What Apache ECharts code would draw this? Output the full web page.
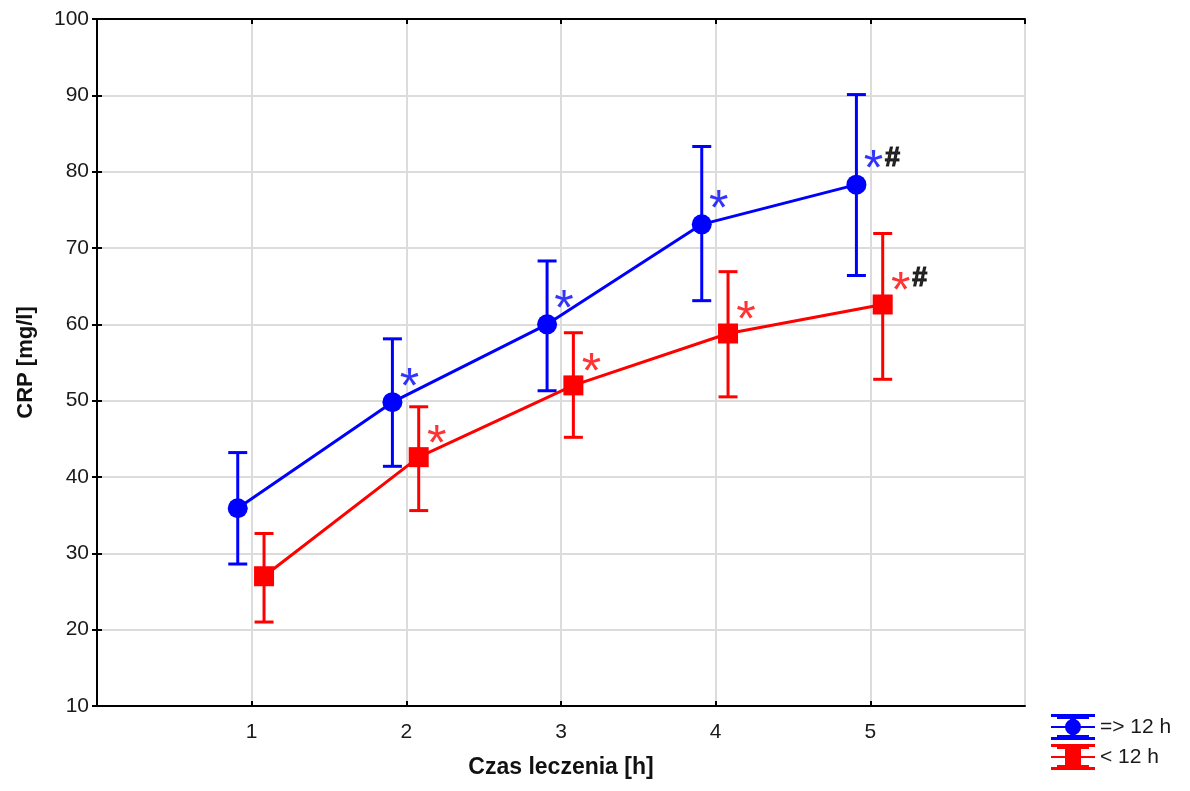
<!DOCTYPE html>
<html>
<head>
<meta charset="utf-8">
<title>CRP – czas leczenia</title>
<script src="https://cdn.jsdelivr.net/npm/echarts@6/dist/echarts.min.js"></script>
<style>
  html, body { margin: 0; padding: 0; background: #fff; }
  #chart { width: 1190px; height: 791px; }
</style>
</head>
<body>
<div id="chart"></div>
<script>
// Treatment hours on the x axis
const hours = [1, 2, 3, 4, 5];
const xTickLabels = ['1', '2', '3', '4', '5'];
const yTicks = [10, 20, 30, 40, 50, 60, 70, 80, 90, 100];

// Group "=> 12 h": mean CRP with error-bar limits
const longName = '=> 12 h';
const longMean = [35.9, 49.8, 60.0, 73.1, 78.3];
const longLow  = [28.6, 41.4, 51.3, 63.1, 66.4];
const longHigh = [43.2, 58.1, 68.3, 83.3, 90.1];
const longStar = ['', '*', '*', '*', '*'];
const longHash = ['', '', '', '', '#'];

// Group "< 12 h"
const shortName = '< 12 h';
const shortMean = [27.0, 42.6, 52.0, 58.8, 62.6];
const shortLow  = [21.0, 35.6, 45.2, 50.5, 52.8];
const shortHigh = [32.6, 49.2, 58.9, 66.9, 71.9];
const shortStar = ['', '*', '*', '*', '*'];
const shortHash = ['', '', '', '', '#'];

// Horizontal dodge so the two groups do not overlap
const DODGE_LONG = -0.09;
const DODGE_SHORT = 0.08;

const BLUE = '#0000ff';
const RED = '#ff0000';
const FONT = '"Liberation Sans", Arial, sans-serif';

function meanPoints(mean, dodge) {
  return hours.map((h, i) => [h + dodge, mean[i]]);
}
function errPoints(low, high, dodge) {
  return hours.map((h, i) => [h + dodge, low[i], high[i]]);
}
function markPoints(mean, marks, dodge) {
  return hours.map((h, i) => ({ value: [h + dodge, mean[i]], mark: marks[i] }))
              .filter(d => d.mark);
}

function errorBarSeries(name, color, low, high, dodge) {
  return {
    name: name,
    type: 'custom',
    data: errPoints(low, high, dodge),
    encode: { x: 0, y: [1, 2] },
    z: 3,
    renderItem: function (params, api) {
      const x = api.value(0);
      const lo = api.coord([x, api.value(1)]);
      const hi = api.coord([x, api.value(2)]);
      const half = 9.5;
      const style = { stroke: color, lineWidth: 3, fill: null };
      return {
        type: 'group',
        children: [
          { type: 'line', shape: { x1: lo[0], y1: lo[1], x2: hi[0], y2: hi[1] }, style: style },
          { type: 'line', shape: { x1: hi[0] - half, y1: hi[1], x2: hi[0] + half, y2: hi[1] }, style: style },
          { type: 'line', shape: { x1: lo[0] - half, y1: lo[1], x2: lo[0] + half, y2: lo[1] }, style: style }
        ]
      };
    }
  };
}

function lineSeries(name, color, mean, dodge, symbol, size) {
  return {
    name: name,
    type: 'line',
    data: meanPoints(mean, dodge),
    symbol: symbol,
    symbolSize: size,
    showAllSymbol: true,
    z: 4,
    itemStyle: { color: color, opacity: 1 },
    lineStyle: { color: color, width: 3 },
    emphasis: { disabled: true },
    animation: false
  };
}

function markSeries(mean, marks, dodge, color, fontSize, weight, offset, stroke) {
  return {
    type: 'scatter',
    data: markPoints(mean, marks, dodge),
    symbolSize: 0,
    z: 5,
    silent: true,
    label: {
      show: true,
      position: 'inside',
      offset: offset,
      formatter: p => p.data.mark,
      color: color,
      fontFamily: FONT,
      fontSize: fontSize,
      fontWeight: weight,
      textBorderColor: color,
      textBorderWidth: stroke
    }
  };
}

// Legend icons: error bar with the group's marker
const capsPath =
  'M0 0H44V3H0Z M6 3H38V5H6Z M19 5H25V21H19Z M0 12H44V14H0Z M6 21H38V23H6Z M0 23H44V26H0Z ';
const iconLong = 'path://' + capsPath + 'M14 13A8 8 0 1 1 30 13A8 8 0 1 1 14 13Z';
const iconShort = 'path://' + capsPath + 'M14 5H30V21H14Z';

const axisLine = { show: true, lineStyle: { color: '#000', width: 2 } };
const innerTick = { show: true, inside: true, length: 5, lineStyle: { color: '#000', width: 2 } };
const gridLine = { show: true, lineStyle: { color: '#dcdcdc', width: 2 } };
const tickFont = { fontFamily: FONT, fontSize: 21, color: '#1a1a1a' };

const chart = echarts.init(document.getElementById('chart'), null, { renderer: 'canvas' });
chart.setOption({
  animation: false,
  backgroundColor: '#ffffff',
  grid: { left: 97, top: 19, right: 165, bottom: 85, containLabel: false },
  legend: {
    orient: 'vertical',
    left: 1046,
    top: 709,
    itemWidth: 44,
    itemHeight: 26,
    itemGap: 4,
    selectedMode: false,
    textStyle: { fontFamily: FONT, fontSize: 21, color: '#1a1a1a', padding: [0, 0, 0, 0] },
    data: [
      { name: longName, icon: iconLong },
      { name: shortName, icon: iconShort }
    ]
  },
  xAxis: [
    {
      type: 'value', min: 0, max: 6, interval: 1, position: 'bottom',
      name: 'Czas leczenia [h]', nameLocation: 'middle', nameGap: 50,
      nameTextStyle: { fontFamily: FONT, fontSize: 23, fontWeight: 'bold', color: '#111' },
      axisLine: axisLine, axisTick: innerTick, splitLine: gridLine,
      axisLabel: Object.assign({
        margin: 16,
        formatter: v => (v >= 1 && v <= 5 ? xTickLabels[v - 1] : ''),
        showMinLabel: false, showMaxLabel: false
      }, tickFont)
    },
    {
      type: 'value', min: 0, max: 6, interval: 1, position: 'top',
      axisLine: axisLine, axisTick: innerTick, splitLine: { show: false },
      axisLabel: { show: false }
    }
  ],
  yAxis: [
    {
      type: 'value', min: yTicks[0], max: yTicks[yTicks.length - 1], interval: 10, position: 'left',
      name: 'CRP [mg/l]', nameLocation: 'middle', nameGap: 60, nameRotate: 90,
      nameTextStyle: { fontFamily: FONT, fontSize: 22, fontWeight: 'bold', color: '#111' },
      axisLine: axisLine, axisTick: innerTick, splitLine: gridLine,
      axisLabel: Object.assign({ margin: 8 }, tickFont)
    },
    {
      type: 'value', min: yTicks[0], max: yTicks[yTicks.length - 1], interval: 10, position: 'right',
      axisLine: axisLine, axisTick: innerTick, splitLine: { show: false },
      axisLabel: { show: false }
    }
  ],
  series: [
    errorBarSeries('err-long', BLUE, longLow, longHigh, DODGE_LONG),
    lineSeries(longName, BLUE, longMean, DODGE_LONG, 'circle', 20),
    errorBarSeries('err-short', RED, shortLow, shortHigh, DODGE_SHORT),
    lineSeries(shortName, RED, shortMean, DODGE_SHORT, 'rect', 20),
    markSeries(longMean, longStar, DODGE_LONG, BLUE, 50, 'normal', [17, -13], 0),
    markSeries(shortMean, shortStar, DODGE_SHORT, RED, 50, 'normal', [18, -11], 0),
    markSeries(longMean, longHash, DODGE_LONG, '#000', 27, 'bold', [36, -26], 1.2),
    markSeries(shortMean, shortHash, DODGE_SHORT, '#000', 27, 'bold', [37, -26], 1.2)
  ]
});
</script>
</body>
</html>
